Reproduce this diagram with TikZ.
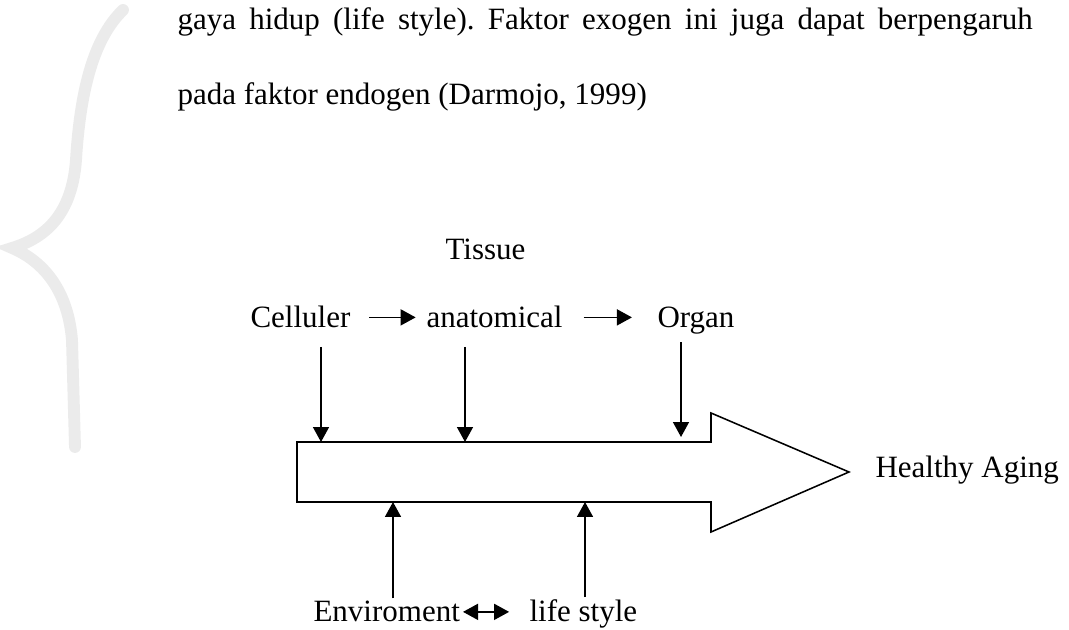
\documentclass[tikz,border=0pt]{standalone}
\usepackage{fontspec}
\setmainfont{Liberation Serif}
\usetikzlibrary{arrows.meta,positioning}
\frenchspacing

\begin{document}
\begin{tikzpicture}[x=.387pt,y=-.387pt,>={Triangle[length=5.8pt,width=6.2pt]},
 lbl/.style={inner sep=0pt,anchor=base west,font=\fontsize{12}{14}\selectfont},
 bigarrow/.style={draw,line width=.6pt,line join=miter},
 feed/.style={->,line width=.55pt}]
 \useasboundingbox (0,0) rectangle (1069,630);
 % faint brace in the margin
 \draw[black!8,line width=4.6pt,line cap=round] (123,10) .. controls (92,40) and (80,95) .. (76,160)
   .. controls (72,215) and (45,238) .. (12,248) .. controls (45,262) and (68,292) .. (72,340) -- (75,447);
 % text above
 \node[lbl] (line1) at (177,30) {\makebox[331pt][s]{gaya hidup (life style). Faktor exogen ini juga dapat berpengaruh}};
 \node[lbl] (line2) at (177,105) {pada faktor endogen (Darmojo, 1999)};
 % endogen row
 \node[lbl] (tissue) at (445,260) {Tissue};
 \node[lbl] (cell) at (250,328) {Celluler};
 \node[lbl] (anat) at (426,328) {anatomical};
 \node[lbl] (organ) at (657,328) {Organ};
 \draw[feed,shorten <=7pt,shorten >=4pt] (cell.east) -- (anat.west);
 \draw[feed,shorten <=8pt,shorten >=9.7pt] (anat.east) -- (anat.east -| organ.west);
 % big arrow
 \draw[bigarrow] (297,442) coordinate (tl) -- (711,442) -- (711,413) -- (849,472) coordinate (tip)
   -- (711,532) -- (711,502) -- (297,502) coordinate (bl) -- cycle;
 \coordinate (s1) at (321,442); \coordinate (s2) at (465,442); \coordinate (s3) at (681,437);
 \coordinate (b1) at (393,502); \coordinate (b2) at (585,502);
 \node[lbl] (healthy) at (875,478) {Healthy Aging};
 \draw[feed,shorten <=7pt] (s1 |- cell.south) -- (s1);
 \draw[feed,shorten <=7pt] (s2 |- anat.south) -- (s2);
 \draw[feed,shorten <=2.7pt] (s3 |- organ.south) -- (s3);
 % exogen row
 \node[lbl] (env) at (313,622) {Enviroment};
 \node[lbl] (life) at (529,622) {life style};
 \draw[feed,shorten <=1pt] (b1 |- env.north) -- (b1);
 \draw[feed,shorten <=1pt] (b2 |- life.north) -- (b2);
 \draw[<->,line width=.55pt,shorten <=1pt,shorten >=7.7pt] (env.east) -- (env.east -| life.west);
\end{tikzpicture}
\end{document}
